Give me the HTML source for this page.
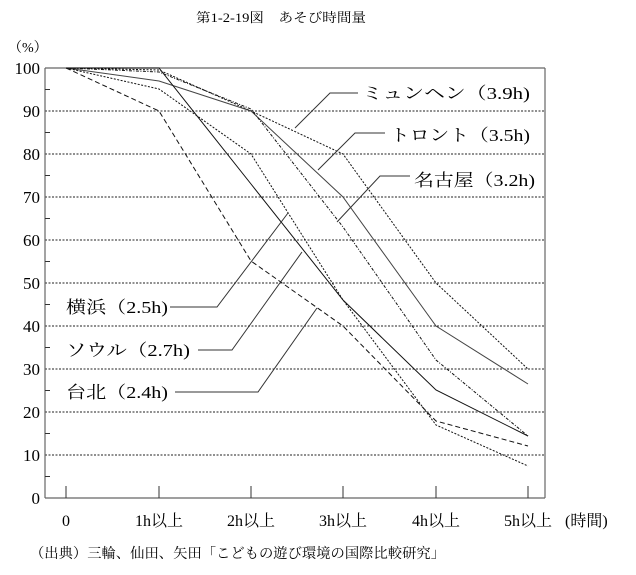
<!DOCTYPE html>
<html><head><meta charset="utf-8"><style>
body{margin:0;background:#fff;}
svg{display:block;font-family:"Liberation Serif","Noto Serif CJK SC","Noto Sans CJK JP",serif;}
</style></head><body>
<svg width="636" height="575" viewBox="0 0 636 575" xmlns="http://www.w3.org/2000/svg">
<text x="196" y="22" font-size="13" textLength="170" lengthAdjust="spacingAndGlyphs">第1-2-19図　あそび時間量</text>
<text x="8" y="52" font-size="14">（%）</text>
<g stroke="#222" stroke-width="1" stroke-dasharray="2,1.5">
<line x1="45" y1="111" x2="545" y2="111"/><line x1="45" y1="154" x2="545" y2="154"/>
<line x1="45" y1="197" x2="545" y2="197"/><line x1="45" y1="240" x2="545" y2="240"/>
<line x1="45" y1="283" x2="545" y2="283"/><line x1="45" y1="326" x2="545" y2="326"/>
<line x1="45" y1="369" x2="545" y2="369"/><line x1="45" y1="412" x2="545" y2="412"/>
<line x1="45" y1="455" x2="545" y2="455"/>
</g>
<g stroke="#666" stroke-width="1.2" fill="none">
<line x1="45" y1="68" x2="545" y2="68"/><line x1="545" y1="68" x2="545" y2="498"/>
<line x1="45" y1="68" x2="45" y2="498"/><line x1="45" y1="498" x2="545" y2="498"/>
</g>
<g stroke="#333" stroke-width="1">
<line x1="45" y1="89.5" x2="50" y2="89.5"/><line x1="45" y1="132.5" x2="50" y2="132.5"/><line x1="45" y1="175.5" x2="50" y2="175.5"/><line x1="45" y1="218.5" x2="50" y2="218.5"/><line x1="45" y1="261.5" x2="50" y2="261.5"/><line x1="45" y1="304.5" x2="50" y2="304.5"/><line x1="45" y1="347.5" x2="50" y2="347.5"/><line x1="45" y1="390.5" x2="50" y2="390.5"/><line x1="45" y1="433.5" x2="50" y2="433.5"/><line x1="45" y1="476.5" x2="50" y2="476.5"/>
<line x1="66" y1="486" x2="66" y2="498"/><line x1="159" y1="486" x2="159" y2="498"/><line x1="251" y1="486" x2="251" y2="498"/><line x1="343" y1="486" x2="343" y2="498"/><line x1="436" y1="486" x2="436" y2="498"/><line x1="528" y1="486" x2="528" y2="498"/>
</g>
<g font-size="17" text-anchor="end">
<text x="40" y="74">100</text><text x="40" y="117">90</text><text x="40" y="160">80</text><text x="40" y="203">70</text><text x="40" y="246">60</text><text x="40" y="289">50</text><text x="40" y="332">40</text><text x="40" y="375">30</text><text x="40" y="418">20</text><text x="40" y="461">10</text><text x="40" y="504">0</text>
</g>
<g font-size="16" text-anchor="middle">
<text x="66" y="526">0</text><text x="159" y="526">1h以上</text><text x="251" y="526">2h以上</text><text x="343" y="526">3h以上</text><text x="436" y="526">4h以上</text><text x="528" y="526">5h以上</text>
</g>
<text x="565" y="526" font-size="16">(時間)</text>
<text x="30" y="558" font-size="14" textLength="415" lengthAdjust="spacingAndGlyphs">（出典）三輪、仙田、矢田「こどもの遊び環境の国際比較研究」</text>
<g fill="none" stroke="#111" stroke-width="1">
<polyline points="66,68 159,70 251,111 343,154 436,283 528,369" stroke-dasharray="2,1.5"/>
<polyline points="66,68 159,81 251,111 343,197 436,326 528,384" stroke="#444"/>
<polyline points="66,68 159,72 251,109 343,227 436,360 528,436" stroke-dasharray="3,1.5,1,1.5"/>
<polyline points="66,68 159,68 251,184 343,300 436,390 528,436"/>
<polyline points="66,68 159,89 251,154 343,300 436,425 528,466" stroke-dasharray="2,1.5"/>
<polyline points="66,68 159,111 251,261 343,326 436,421 528,446" stroke-dasharray="5,3"/>
</g>
<g fill="none" stroke="#333" stroke-width="1">
<polyline points="295,128 330,93 358,93"/>
<polyline points="318,170 355,133 385,133"/>
<polyline points="337,222 380,176 410,176"/>
<polyline points="170,307 217,307 288,213"/>
<polyline points="198,350 232,350 302,252"/>
<polyline points="175,392 258,392 317,308"/>
</g>
<g font-size="17" lengthAdjust="spacingAndGlyphs">
<text x="362" y="99" textLength="168" lengthAdjust="spacingAndGlyphs">ミュンヘン（3.9h)</text>
<text x="390" y="141" textLength="140" lengthAdjust="spacingAndGlyphs">トロント（3.5h)</text>
<text x="414" y="186" textLength="121" lengthAdjust="spacingAndGlyphs">名古屋（3.2h)</text>
<text x="66" y="313" textLength="102" lengthAdjust="spacingAndGlyphs">横浜（2.5h)</text>
<text x="66" y="356" textLength="124" lengthAdjust="spacingAndGlyphs">ソウル（2.7h)</text>
<text x="66" y="398" textLength="102" lengthAdjust="spacingAndGlyphs">台北（2.4h)</text>
</g>
</svg>
</body></html>
